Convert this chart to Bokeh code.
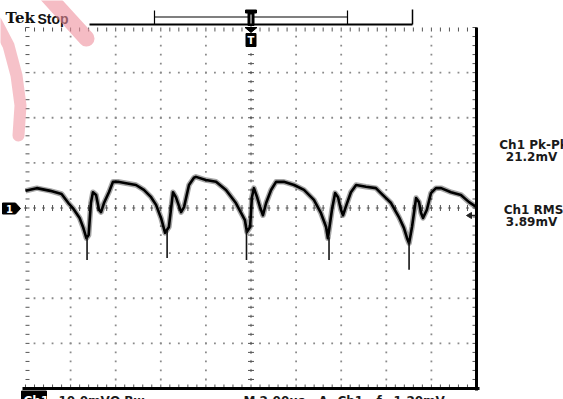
import numpy as np
from bokeh.plotting import figure
from bokeh.models import Range1d
from bokeh.embed import file_html
from bokeh.resources import INLINE
from bokeh.core.properties import value

# ---- Ch1 acquisition: 10 mV/div, 2 us/div, 10 x 8 divisions ----
TIME_PER_DIV = 2.0     # us
VOLT_PER_DIV = 10.0    # mV
N_XDIV, N_YDIV = 10, 8

# averaged trace (time in us, voltage in mV)
trace_t = [-10.0, -9.5, -8.9, -8.4, -8.1, -7.9, -7.6, -7.45, -7.3, -7.2,
           -7.1, -7.01, -6.87, -6.74, -6.65, -6.52, -6.3, -6.12, -5.9, -5.54,
           -5.1, -4.75, -4.43, -4.21, -3.99, -3.81, -3.64, -3.46, -3.33, -3.1,
           -2.97, -2.75, -2.53, -2.44, -2.0, -1.55, -1.11, -0.67, -0.44, -0.27,
           -0.18, -0.04, 0.04, 0.13, 0.27, 0.4, 0.53, 0.67, 0.89, 1.11,
           1.46, 1.91, 2.35, 2.79, 3.1, 3.33, 3.41, 3.59, 3.73, 3.86,
           3.99, 4.08, 4.26, 4.43, 4.66, 5.1, 5.54, 5.76, 6.21, 6.56,
           6.78, 6.92, 7.01, 7.14, 7.32, 7.45, 7.54, 7.63, 7.8, 7.98,
           8.2, 8.43, 8.87, 9.31, 9.67, 10.0]
trace_v = [3.8, 4.4, 3.8, 3.1, 1.1, 0.0, -2.2, -4.2, -6.7, -6.0,
           1.1, 3.5, 2.9, -0.4, -0.9, 1.1, 3.5, 5.8, 5.8, 5.5,
           5.1, 4.0, 2.4, 0.7, -2.2, -5.5, -4.2, 3.5, 2.4, -0.9,
           0.2, 5.1, 6.7, 6.9, 6.2, 5.8, 4.0, 1.1, -1.1, -2.7,
           -5.3, -4.2, 2.4, 4.4, 2.4, 0.2, -1.6, 1.1, 4.0, 5.8,
           5.8, 5.1, 4.0, 1.8, -1.1, -4.2, -6.7, -0.4, 3.3, 2.4,
           -0.4, -1.6, 1.1, 3.5, 5.1, 4.7, 4.4, 3.3, 1.1, -2.0,
           -4.4, -6.7, -7.8, -4.2, 2.2, 1.3, -1.1, -2.2, -0.4, 3.3,
           4.4, 4.4, 3.5, 2.9, 1.3, 0.2]
assert len(trace_t) == len(trace_v)

# narrow negative spikes at each switching edge
spike_t = [-7.27, -3.72, -0.2, 3.46, 7.01]
spike_from = [-6.5, -5.0, -5.0, -6.5, -7.5]
spike_min = [-11.5, -11.1, -11.5, -11.5, -13.7]

# measurement readouts and status line
readout_names = ["Ch1 Pk-Pk", "Ch1 RMS"]
readout_values = ["21.2mV", "3.89mV"]
status_texts = ["10.0mV\u03a9 Bw", "M 2.00\u00b5s", "A", "Ch1", "\u0192", "1.20mV"]

# ---- screen geometry (pixels) ----
W, H = 563, 399
X0, Y0 = 250.5, 207.5            # graticule centre
PX_T = 45.1 / TIME_PER_DIV       # px per us
PX_V = 45.125 / VOLT_PER_DIV     # px per mV


def tx(px):
    return (px - X0) / PX_T


def vy(py):
    return (Y0 - py) / PX_V


T_HALF = N_XDIV / 2 * TIME_PER_DIV
V_HALF = N_YDIV / 2 * VOLT_PER_DIV

p = figure(width=W, height=H,
           x_range=Range1d(tx(0), tx(W)), y_range=Range1d(vy(H), vy(0)),
           x_axis_location=None, y_axis_location=None,
           toolbar_location=None, output_backend="svg",
           min_border=0, outline_line_color=None,
           background_fill_color="white", border_fill_color="white")
p.grid.visible = False

GRID = "#8a8a8a"
TICK = "#555555"

minor_t = np.round(np.arange(-T_HALF, T_HALF + 1e-6, TIME_PER_DIV / 5), 4)
minor_v = np.round(np.arange(-V_HALF, V_HALF + 1e-6, VOLT_PER_DIV / 5), 4)
major_t = [t for t in np.arange(-T_HALF + TIME_PER_DIV, T_HALF, TIME_PER_DIV) if abs(t) > 1e-6]
major_v = [v for v in np.arange(-V_HALF + VOLT_PER_DIV, V_HALF, VOLT_PER_DIV) if abs(v) > 1e-6]

# dotted graticule lines
gx, gy = [], []
for t in major_t:
    for v in minor_v[1:-1]:
        gx.append(t); gy.append(v)
for v in major_v:
    for t in minor_t[1:-1]:
        gx.append(t); gy.append(v)
p.scatter(gx, gy, marker="square", size=1.8, color=GRID, line_color=None)

# centre cross with minor ticks
dt3, dv3 = 3 / PX_T, 3 / PX_V
p.segment(x0=minor_t, y0=-dv3, x1=minor_t, y1=dv3, line_color=TICK, line_width=1)
p.segment(x0=minor_t - 1.5 / PX_T, y0=0, x1=minor_t + 1.5 / PX_T, y1=0, line_color=TICK, line_width=1)
p.segment(x0=-dt3, y0=minor_v, x1=dt3, y1=minor_v, line_color=TICK, line_width=1)
p.segment(x0=0, y0=minor_v - 1.5 / PX_V, x1=0, y1=minor_v + 1.5 / PX_V, line_color=TICK, line_width=1)

# edge ticks
e4t, e4v = 4 / PX_T, 4 / PX_V
p.segment(x0=minor_t, y0=V_HALF, x1=minor_t, y1=V_HALF - e4v, line_color=TICK)
p.segment(x0=minor_t, y0=-V_HALF, x1=minor_t, y1=-V_HALF + e4v, line_color=TICK)
p.segment(x0=-T_HALF, y0=minor_v, x1=-T_HALF + e4t, y1=minor_v, line_color=TICK)
p.segment(x0=T_HALF, y0=minor_v, x1=T_HALF - e4t, y1=minor_v, line_color=TICK)

# heavy bottom/right frame
p.segment(x0=[tx(22), T_HALF], y0=[-V_HALF, V_HALF], x1=[tx(479), T_HALF], y1=[-V_HALF, vy(390)],
          line_color="black", line_width=3)

# waveform: noisy band, trace core, spikes
p.line(trace_t, trace_v, line_color="black", line_width=5.5, line_alpha=0.35, line_join="round")
p.line(trace_t, trace_v, line_color="black", line_width=2.6, line_join="round")
p.segment(x0=spike_t, y0=spike_from, x1=spike_t, y1=spike_min, line_color="#141414", line_width=1.6)

# record-length bar with trigger position
p.segment(x0=[tx(89), tx(154), tx(347), tx(412), tx(154)],
          y0=[vy(24), vy(10), vy(10), vy(9), vy(16.5)],
          x1=[tx(412), tx(154), tx(347), tx(412), tx(347)],
          y1=[vy(24), vy(24), vy(24), vy(24), vy(16.5)],
          line_color="black", line_width=[2, 1.2, 1.2, 1.5, 1.2])
p.quad(left=[tx(245), tx(247.5)], right=[tx(256), tx(253.5)],
       top=[vy(9.5), vy(12)], bottom=[vy(12.5), vy(25)], color="black")
p.segment(x0=[tx(250.5)], y0=[vy(14)], x1=[tx(250.5)], y1=[vy(23)], line_color="white", line_width=1)

# trigger marker below the record bar
p.patch([tx(244.5), tx(256.5), tx(250.5)], [vy(27), vy(27), vy(32)], color="black")
p.quad(left=[tx(245.5)], right=[tx(255.5)], top=[vy(33)], bottom=[vy(46)], color="black")
p.text([tx(250.5)], [vy(39.5)], text=["T"], text_color="white", text_align="center",
       text_baseline="middle", text_font=value("DejaVu Sans"), text_font_style="bold",
       text_font_size="10px")

# channel 1 ground marker and trigger level arrow
p.patch([tx(2), tx(15), tx(20), tx(15), tx(2)],
        [vy(202.5), vy(202.5), vy(208), vy(213.5), vy(213.5)], color="black")
p.text([tx(9)], [vy(208)], text=["1"], text_color="white", text_align="center",
       text_baseline="middle", text_font=value("DejaVu Sans"), text_font_style="bold",
       text_font_size="10px")
p.patch([tx(466), tx(471), tx(471)], [vy(215), vy(212), vy(218)], color="#222222")
p.segment(x0=[tx(470)], y0=[vy(215)], x1=[tx(475)], y1=[vy(215)], line_color="#222222", line_width=1.5)

# header
p.text([tx(5)], [vy(17)], text=["Tek"], text_color="#111111", text_font=value("DejaVu Serif"),
       text_font_style="bold", text_font_size="15px", text_baseline="middle")
p.text([tx(37)], [vy(18)], text=["Stop"], text_color="#111111", text_font=value("Liberation Sans"),
       text_font_style="bold", text_font_size="14px", text_baseline="middle")

# measurement readouts
rd_font = dict(text_color="#1a1a1a", text_font=value("DejaVu Sans"), text_font_style="bold",
               text_font_size="12px", text_align="center", text_baseline="middle")
p.text([tx(533)] * 2, [vy(144.5), vy(209.5)], text=readout_names, **rd_font)
p.text([tx(531)] * 2, [vy(156), vy(221)], text=readout_values, **rd_font)

# status line at the bottom (only its upper part fits on screen)
p.quad(left=[tx(21)], right=[tx(46)], top=[vy(390.5)], bottom=[vy(400)], color="black")
st_font = dict(text_font=value("DejaVu Sans"), text_font_style="bold", text_font_size="12px",
               text_baseline="middle", text_align="left")
p.text([tx(23)], [vy(400)], text=["Ch1"], text_color="white", **st_font)
p.text([tx(58), tx(243), tx(318), tx(337), tx(376), tx(393)], [vy(400)] * 6,
       text=status_texts, text_color="#1a1a1a", **st_font)

# pink watermark strokes
p.line([tx(46), tx(86)], [vy(-6), vy(38)], line_color="#ee8f9c", line_width=16,
       line_alpha=0.6, line_cap="round")
p.line([tx(-4), tx(8), tx(16), tx(20), tx(18)], [vy(22), vy(45), vy(75), vy(105), vy(135)],
       line_color="#ee8f9c", line_width=12, line_alpha=0.55, line_cap="round", line_join="round")

open("out.html", "w").write(file_html(p, INLINE))
